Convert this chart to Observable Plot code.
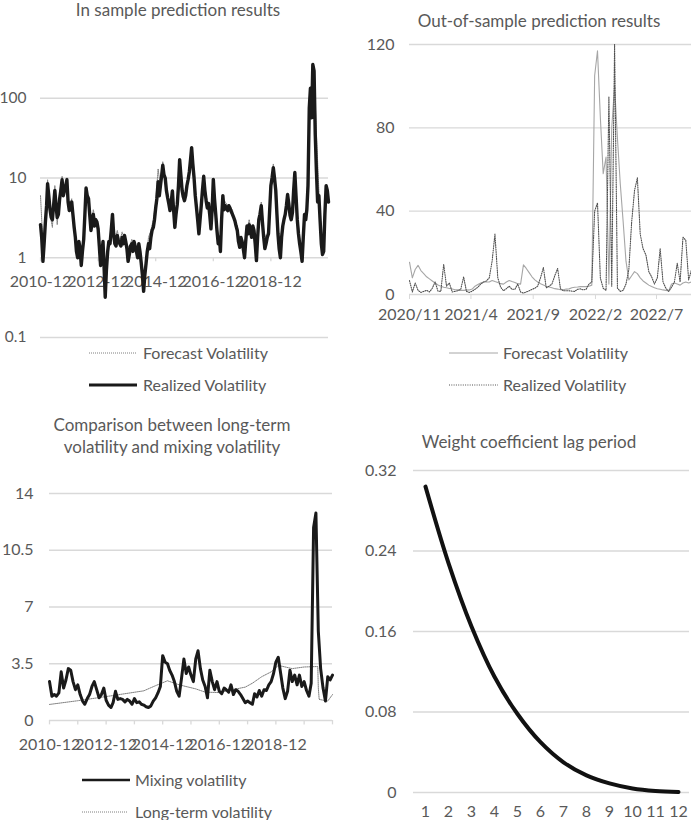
<!DOCTYPE html>
<html><head><meta charset="utf-8">
<script src="https://cdn.jsdelivr.net/npm/d3@7"></script>
<script src="https://cdn.jsdelivr.net/npm/@observablehq/plot@0.6"></script>
<style>
body{margin:0;background:#fff;}
#root{position:relative;width:692px;height:820px;overflow:hidden;font-family:Lato,"Open Sans",sans-serif;color:#595959;background:#fff;}
.title{position:absolute;font-size:17px;white-space:nowrap;transform:translate(-50%,-50%);text-align:center;line-height:22px;}
.leg{position:absolute;font-size:16px;white-space:nowrap;transform:translateY(-50%);line-height:20px;}
svg{position:absolute;}
</style></head><body><div id="root"></div>
<script>
// ---------- Panel 1: In sample (month starts from 2010-12, plus mid-month readings) ----------
const inStartLabel = "2010-12";
const inEndLabel = "2020-12";
const realizedIn = [2.6,0.9,2.8,8.5,4.0,3.0,7.0,3.2,5.5,9.5,7.0,9.5,3.9,5.0,2.4,1.2,1.6,0.8,1.7,7.5,
5.5,2.2,3.5,3.0,2.3,0.8,1.6,0.32,1.2,1.5,3.5,1.5,1.9,1.5,1.8,1.9,1.3,1.1,1.5,1.6,
1.2,1.5,0.85,0.38,0.85,1.5,1.8,2.4,4.2,9.0,8.3,14.5,10,5.7,3.9,6.9,2.4,4.7,17,7,
5.2,8,12,24,10,4.3,2.0,4.5,10.5,5.2,4.8,2.3,9.6,3.5,1.5,1.2,6.0,4.5,3.9,4.2,
3.5,2.9,2.2,1.35,1.6,1.0,2.5,2.6,1.8,2.2,0.92,3.0,4.5,1.8,1.5,2.0,8.0,13.5,7.0,2.0,
1.0,2.5,3.5,6.2,3.4,3.7,11.7,3.0,1.5,0.9,3.5,4.0,75,57,220,12,6,1.5,1.2,8,5];
const realizedInMid = [1.8,1.5,4.5,6,3.2,4.5,4.5,3.5,7,6,8,5,4.5,3.5,1.8,1.0,1.3,1.2,3.5,6,
3.5,2.8,2.5,2.8,1.4,1.1,0.7,0.7,1.6,2.2,2.0,1.4,1.6,1.4,1.5,1.6,0.9,1.4,1.2,1.4,
1.0,1.2,0.6,0.6,1.2,1.3,2.2,3.0,5.5,6,11,11,7,4.8,5,4,3.5,8,11,5.8,
6,9.5,17,15,6,3,3,7,7,4.2,3.5,4,5.5,2.2,1.8,3,4,4.2,4.5,3.8,
3.2,2.5,1.6,1.8,1.3,1.6,2.0,2.2,2.5,1.5,1.8,3.5,2.8,1.3,1.8,4,10,10,3.5,1.3,
1.8,3.0,4.5,4.8,3.0,7,6,2.0,1.2,1.8,3.0,8,134,265,35,5,3,1.1,3.5,7];
const forecastIn = [6.0,1.5,2.2,9.5,3.5,2.4,8,2.6,6.5,10.5,6,10,4.2,5.5,2.8,1.4,1.5,1.0,2.0,6.5,
6.0,2.6,4.0,2.8,2.6,1.0,1.4,0.45,1.3,1.8,2.8,1.7,2.2,1.6,2.1,1.7,1.5,1.3,1.7,1.4,
1.4,1.3,1.0,0.5,0.9,1.8,2.2,3.0,5.0,13,7.5,16,9,6.5,4.5,6,3.0,5.5,15,8,
6,7,13,21,11,5,2.4,4,9.5,6,4.2,2.8,8.5,4.2,1.8,1.5,5.5,5.0,4.5,3.8,
4.0,2.6,2.5,1.6,1.5,1.2,2.2,3.0,2.0,2.4,1.1,2.6,5.0,2.2,1.7,2.4,7,15,8,2.5,
1.2,2.2,4.0,5.5,4.0,3.2,10,3.6,1.8,1.1,3.0,4.5,60,150,230,35,7,2,1.5,7,6];
const yTicksIn = [0.1, 1, 10, 100];
const xLabelsIn = ["2010-12","2012-12","2014-12","2016-12","2018-12"];
const xTickMarksIn = ["2010-12","2012-12","2014-12","2016-12","2018-12"];

// ---------- Panel 2: Out of sample (weekly, from 2020-11-01) ----------
const outStartLabel = "2020-11-01";
const outEndLabel = "2022-09-25";
const forecastOut = [15.5,8,12,14,11.5,10,8.5,7.5,6.5,5.5,
4.6,4,3.5,3.2,2.9,2.6,2.3,2.2,2.0,2.0,
2.1,2.2,2.6,4.0,4.8,5.5,6,6,6,6.7,
6.2,5.8,5.2,5,6,6.7,6.2,5.8,5.2,5,
14.2,12.5,10.5,8.5,7,6,5.2,4.6,4,3.6,
3.2,2.8,2.6,2.3,2.3,2.6,2.7,3.2,3.5,3.6,
3.8,3.8,3.8,4,4.5,105,117,85,58,66,
5,80,100,75,53,35,16,7,9,11,
10,8,6.5,5.5,4.5,3.8,3.2,2.8,2.5,2.2,
2.0,1.8,5,5.5,5,4.5,5.5,6,5.5,6];
const realizedOut = [6.7,1.2,5.5,2,1,1.5,2,1.2,3,6,
1.6,1.5,14.5,4,5.5,1.2,1.5,1.8,2.5,8.5,
1.5,1,1.6,2.5,3.5,5,6,6.5,8,16,
29,8,3.5,1.8,2.8,4,2.5,2.5,5,1.2,
0.7,1.2,1.8,2.5,3,4,8,13,3.2,4,
5,9,12.5,2.7,1.8,1.8,1.8,1.6,1.5,2.5,
2.7,2.2,2.5,5,6,40,44,8,3,2,
95,4,120,3,1.5,2,5,12,35,50,
56,29,22,19,11,8.5,5,8,22,6,
3,1.5,3.5,6,15,6,27.5,26,7,12];
const yTicksOut = [0, 40, 80, 120];
const xLabelsOut = ["2020-11-01","2021-04-01","2021-09-01","2022-02-01","2022-07-01"];

// ---------- Panel 3: Mixing vs long-term (monthly, from 2010-12) ----------
const mixing = [2.4,1.5,1.6,1.5,1.7,3.0,2.0,2.5,3.2,3.1,2.4,1.9,2.2,1.6,1.2,1.0,1.35,1.6,2.1,2.4,
1.9,1.4,1.6,2.0,1.25,0.95,0.8,1.1,1.8,1.3,1.35,1.3,1.15,1.3,1.2,1.0,1.35,1.1,1.15,1.0,
0.95,0.85,0.8,0.9,1.2,1.4,1.7,2.1,4.0,3.6,3.5,3.1,2.8,2.4,1.8,1.5,2.6,3.8,2.9,3.3,
2.8,2.4,3.8,4.3,3.2,2.5,2.1,1.4,3.1,2.4,1.9,2.4,1.8,1.65,2.0,1.9,1.75,2.2,1.6,1.9,
1.8,1.6,1.35,1.1,1.2,1.1,1.0,1.65,1.45,1.85,1.5,1.9,1.85,2.2,2.4,2.9,3.6,3.9,2.9,2.0,
1.35,1.8,3.1,2.4,2.8,2.2,2.8,2.1,2.4,1.85,1.5,2.3,11.9,12.8,5.5,3.2,2.0,1.2,2.7,2.5,2.8];
const longTermDates = ["2010-12-01","2011-12-01","2013-02-01","2014-04-01","2014-09-01","2015-02-01",
"2015-07-01","2016-02-01","2016-06-01","2016-12-01","2017-05-01","2017-11-01","2018-02-01","2018-06-01",
"2018-10-01","2019-01-01","2019-07-01","2019-12-01","2020-05-25","2020-06-01","2020-06-12","2020-10-01","2020-12-01"];
const longTermValues = [0.99,1.22,1.52,1.83,2.15,2.45,2.2,1.95,1.75,1.72,1.88,2.06,2.3,2.7,3.0,3.4,3.2,3.3,3.33,2.0,1.3,1.2,1.6];
const yTicksMix = [0, 3.5, 7, 10.5, 14];
const xLabelsMix = ["2010-12","2012-12","2014-12","2016-12","2018-12"];
const xTickMarksMix = ["2010-12","2011-12","2012-12","2013-12","2014-12","2015-12","2016-12","2017-12","2018-12","2019-12","2020-12"];

// ---------- Panel 4: Weight coefficient ----------
const lags = [1,2,3,4,5,6,7,8,9,10,11,12];
const weights = [0.304,0.228,0.165,0.115,0.078,0.050,0.030,0.017,0.009,0.004,0.0015,0.0005];
const yTicksW = [0, 0.08, 0.16, 0.24, 0.32];

// ---------- helpers ----------
const root = document.getElementById("root");
const parseYM = d3.utcParse("%Y-%m");
const parseYMD = d3.utcParse("%Y-%m-%d");
const GRID = "#d9d9d9", TXT = "#595959";
const baseStyle = {fontFamily:"Lato, 'Open Sans', sans-serif", fontSize:"16px", color:TXT, background:"transparent", overflow:"visible"};
function put(node, left, top){ node.style.position="absolute"; node.style.left=left+"px"; node.style.top=top+"px"; root.appendChild(node); }
function title(text, cx, cy){ const d=document.createElement("div"); d.className="title"; d.textContent=text; d.style.left=cx+"px"; d.style.top=cy+"px"; root.appendChild(d); }
function legendItem(x1, x2, y, tx, label, stroke, width, dash){
  const s = d3.create("svg").attr("width", x2-x1).attr("height", 8)
    .style("left", x1+"px").style("top", (y-4)+"px");
  s.append("line").attr("x1",0).attr("x2",x2-x1).attr("y1",4).attr("y2",4)
    .attr("stroke",stroke).attr("stroke-width",width).attr("stroke-dasharray",dash||null);
  root.appendChild(s.node());
  const d=document.createElement("div"); d.className="leg"; d.textContent=label;
  d.style.left=tx+"px"; d.style.top=y+"px"; root.appendChild(d);
}

// ---------- Panel 1 ----------
const inStart = parseYM(inStartLabel);
const inForecast = forecastIn.map((v,i)=>({date:d3.utcMonth.offset(inStart,i), value:v}));
const inRealized = [];
realizedIn.forEach((v,i)=>{
  const m = d3.utcMonth.offset(inStart,i);
  inRealized.push({date:m, value:v});
  if (i < realizedInMid.length) inRealized.push({date:d3.utcDay.offset(m,15), value:realizedInMid[i]});
});
const p1 = Plot.plot({
  width:346, height:345, marginLeft:40, marginRight:18, marginTop:18, marginBottom:8,
  style:baseStyle,
  x:{type:"utc", domain:[inStart, parseYM(inEndLabel)], axis:null},
  y:{type:"log", domain:[0.1,1000]},
  marks:[
    Plot.ruleY(yTicksIn, {stroke:GRID, strokeWidth:1.3}),
    Plot.ruleX(xTickMarksIn.map(parseYM), {x:d=>d, y1:d=>1, y2:d=>0.89, stroke:GRID, strokeWidth:1.3}),
    Plot.text(xLabelsIn, {x:d=>parseYM(d), y:d=>1, dy:24, text:d=>d, fill:TXT, fontSize:16}),
    Plot.axisY(yTicksIn, {tickSize:0, tickPadding:14, tickFormat:d=>String(d), fill:TXT, fontSize:15.5, label:null}),
    Plot.line(inForecast, {x:"date", y:"value", stroke:"#7f7f7f", strokeWidth:1, strokeDasharray:"1,1"}),
    Plot.line(inRealized, {x:"date", y:"value", stroke:"#1a1a1a", strokeWidth:3.4, strokeLinejoin:"round"})
  ]
});
put(p1, 0, 0);
title("In sample prediction results", 178, 10);
legendItem(89, 137, 353, 143, "Forecast Volatility", "#7f7f7f", 1, "1,1");
legendItem(89, 137, 385, 143, "Realized Volatility", "#1a1a1a", 3);

// ---------- Panel 2 ----------
const outStart = parseYMD(outStartLabel);
const outData = realizedOut.map((v,i)=>({date:d3.utcWeek.offset(outStart,i), realized:v, forecast:forecastOut[i]}));
const p2 = Plot.plot({
  width:346, height:330, marginLeft:63, marginRight:1, marginTop:44, marginBottom:36,
  style:baseStyle,
  x:{type:"utc", domain:[outStart, parseYMD(outEndLabel)]},
  y:{domain:[0,120]},
  marks:[
    Plot.ruleY(yTicksOut, {stroke:GRID, strokeWidth:1.3}),
    Plot.axisX(xLabelsOut.map(parseYMD), {tickSize:5, tickPadding:9, tickFormat:d3.utcFormat("%Y/%-m"), stroke:GRID, fill:TXT, fontSize:16, label:null}),
    Plot.axisY(yTicksOut, {tickSize:0, tickPadding:15, fill:TXT, fontSize:16, label:null}),
    Plot.line(outData, {x:"date", y:"forecast", stroke:"#a6a6a6", strokeWidth:1.1, clip:true}),
    Plot.line(outData, {x:"date", y:"realized", stroke:"#505050", strokeWidth:1.1, strokeDasharray:"1,1.3", clip:true})
  ]
});
put(p2, 346, 0);
title("Out-of-sample prediction results", 539, 21);
legendItem(449, 498, 353, 503, "Forecast Volatility", "#a6a6a6", 1);
legendItem(449, 498, 385, 503, "Realized Volatility", "#505050", 1.1, "1,1.3");

// ---------- Panel 3 ----------
const mixStart = parseYM("2010-12");
const mixData = mixing.map((v,i)=>({date:d3.utcMonth.offset(mixStart,i), value:v}));
const ltData = longTermDates.map((d,i)=>({date:parseYMD(d), value:longTermValues[i]}));
const p3 = Plot.plot({
  width:346, height:300, marginLeft:49, marginRight:14, marginTop:33, marginBottom:40,
  style:baseStyle,
  x:{type:"utc", domain:[mixStart, parseYM("2020-12")], axis:null},
  y:{domain:[0,14]},
  marks:[
    Plot.ruleY(yTicksMix, {stroke:GRID, strokeWidth:1.3}),
    Plot.ruleX(xTickMarksMix.map(parseYM), {x:d=>d, y1:d=>0, y2:d=>-0.27, stroke:GRID, strokeWidth:1.3}),
    Plot.text(xLabelsMix, {x:d=>parseYM(d), y:d=>0, dy:24, text:d=>d, fill:TXT, fontSize:16}),
    Plot.axisY(yTicksMix, {tickSize:0, tickPadding:16, tickFormat:d=>String(d), fill:TXT, fontSize:16, label:null}),
    Plot.line(ltData, {x:"date", y:"value", stroke:"#7f7f7f", strokeWidth:1, strokeDasharray:"1,1"}),
    Plot.line(mixData, {x:"date", y:"value", stroke:"#1a1a1a", strokeWidth:3, strokeLinejoin:"round"})
  ]
});
put(p3, 0, 460);
title("Comparison between long-term", 172, 425);
title("volatility and mixing volatility", 172, 447);
legendItem(82, 130, 780, 135, "Mixing volatility", "#1a1a1a", 2.5);
legendItem(82, 128, 812, 135, "Long-term volatility", "#7f7f7f", 1, "1,1");

// ---------- Panel 4 ----------
const wData = lags.map((l,i)=>({lag:l, w:weights[i]}));
const p4 = Plot.plot({
  width:346, height:358, marginLeft:67, marginRight:3, marginTop:10, marginBottom:26,
  style:baseStyle,
  x:{type:"point", domain:lags, padding:0.5},
  y:{domain:[0,0.32]},
  marks:[
    Plot.ruleY(yTicksW, {stroke:GRID, strokeWidth:1.3}),
    Plot.axisX({tickSize:0, tickPadding:13, fill:TXT, fontSize:16, label:null}),
    Plot.axisY(yTicksW, {tickSize:0, tickPadding:17, tickFormat:d=>String(d), fill:TXT, fontSize:16, label:null}),
    Plot.line(wData, {x:"lag", y:"w", stroke:"#111", strokeWidth:4, curve:"catmull-rom"})
  ]
});
put(p4, 346, 460);
title("Weight coefficient lag period", 529, 442);
</script></body></html>
